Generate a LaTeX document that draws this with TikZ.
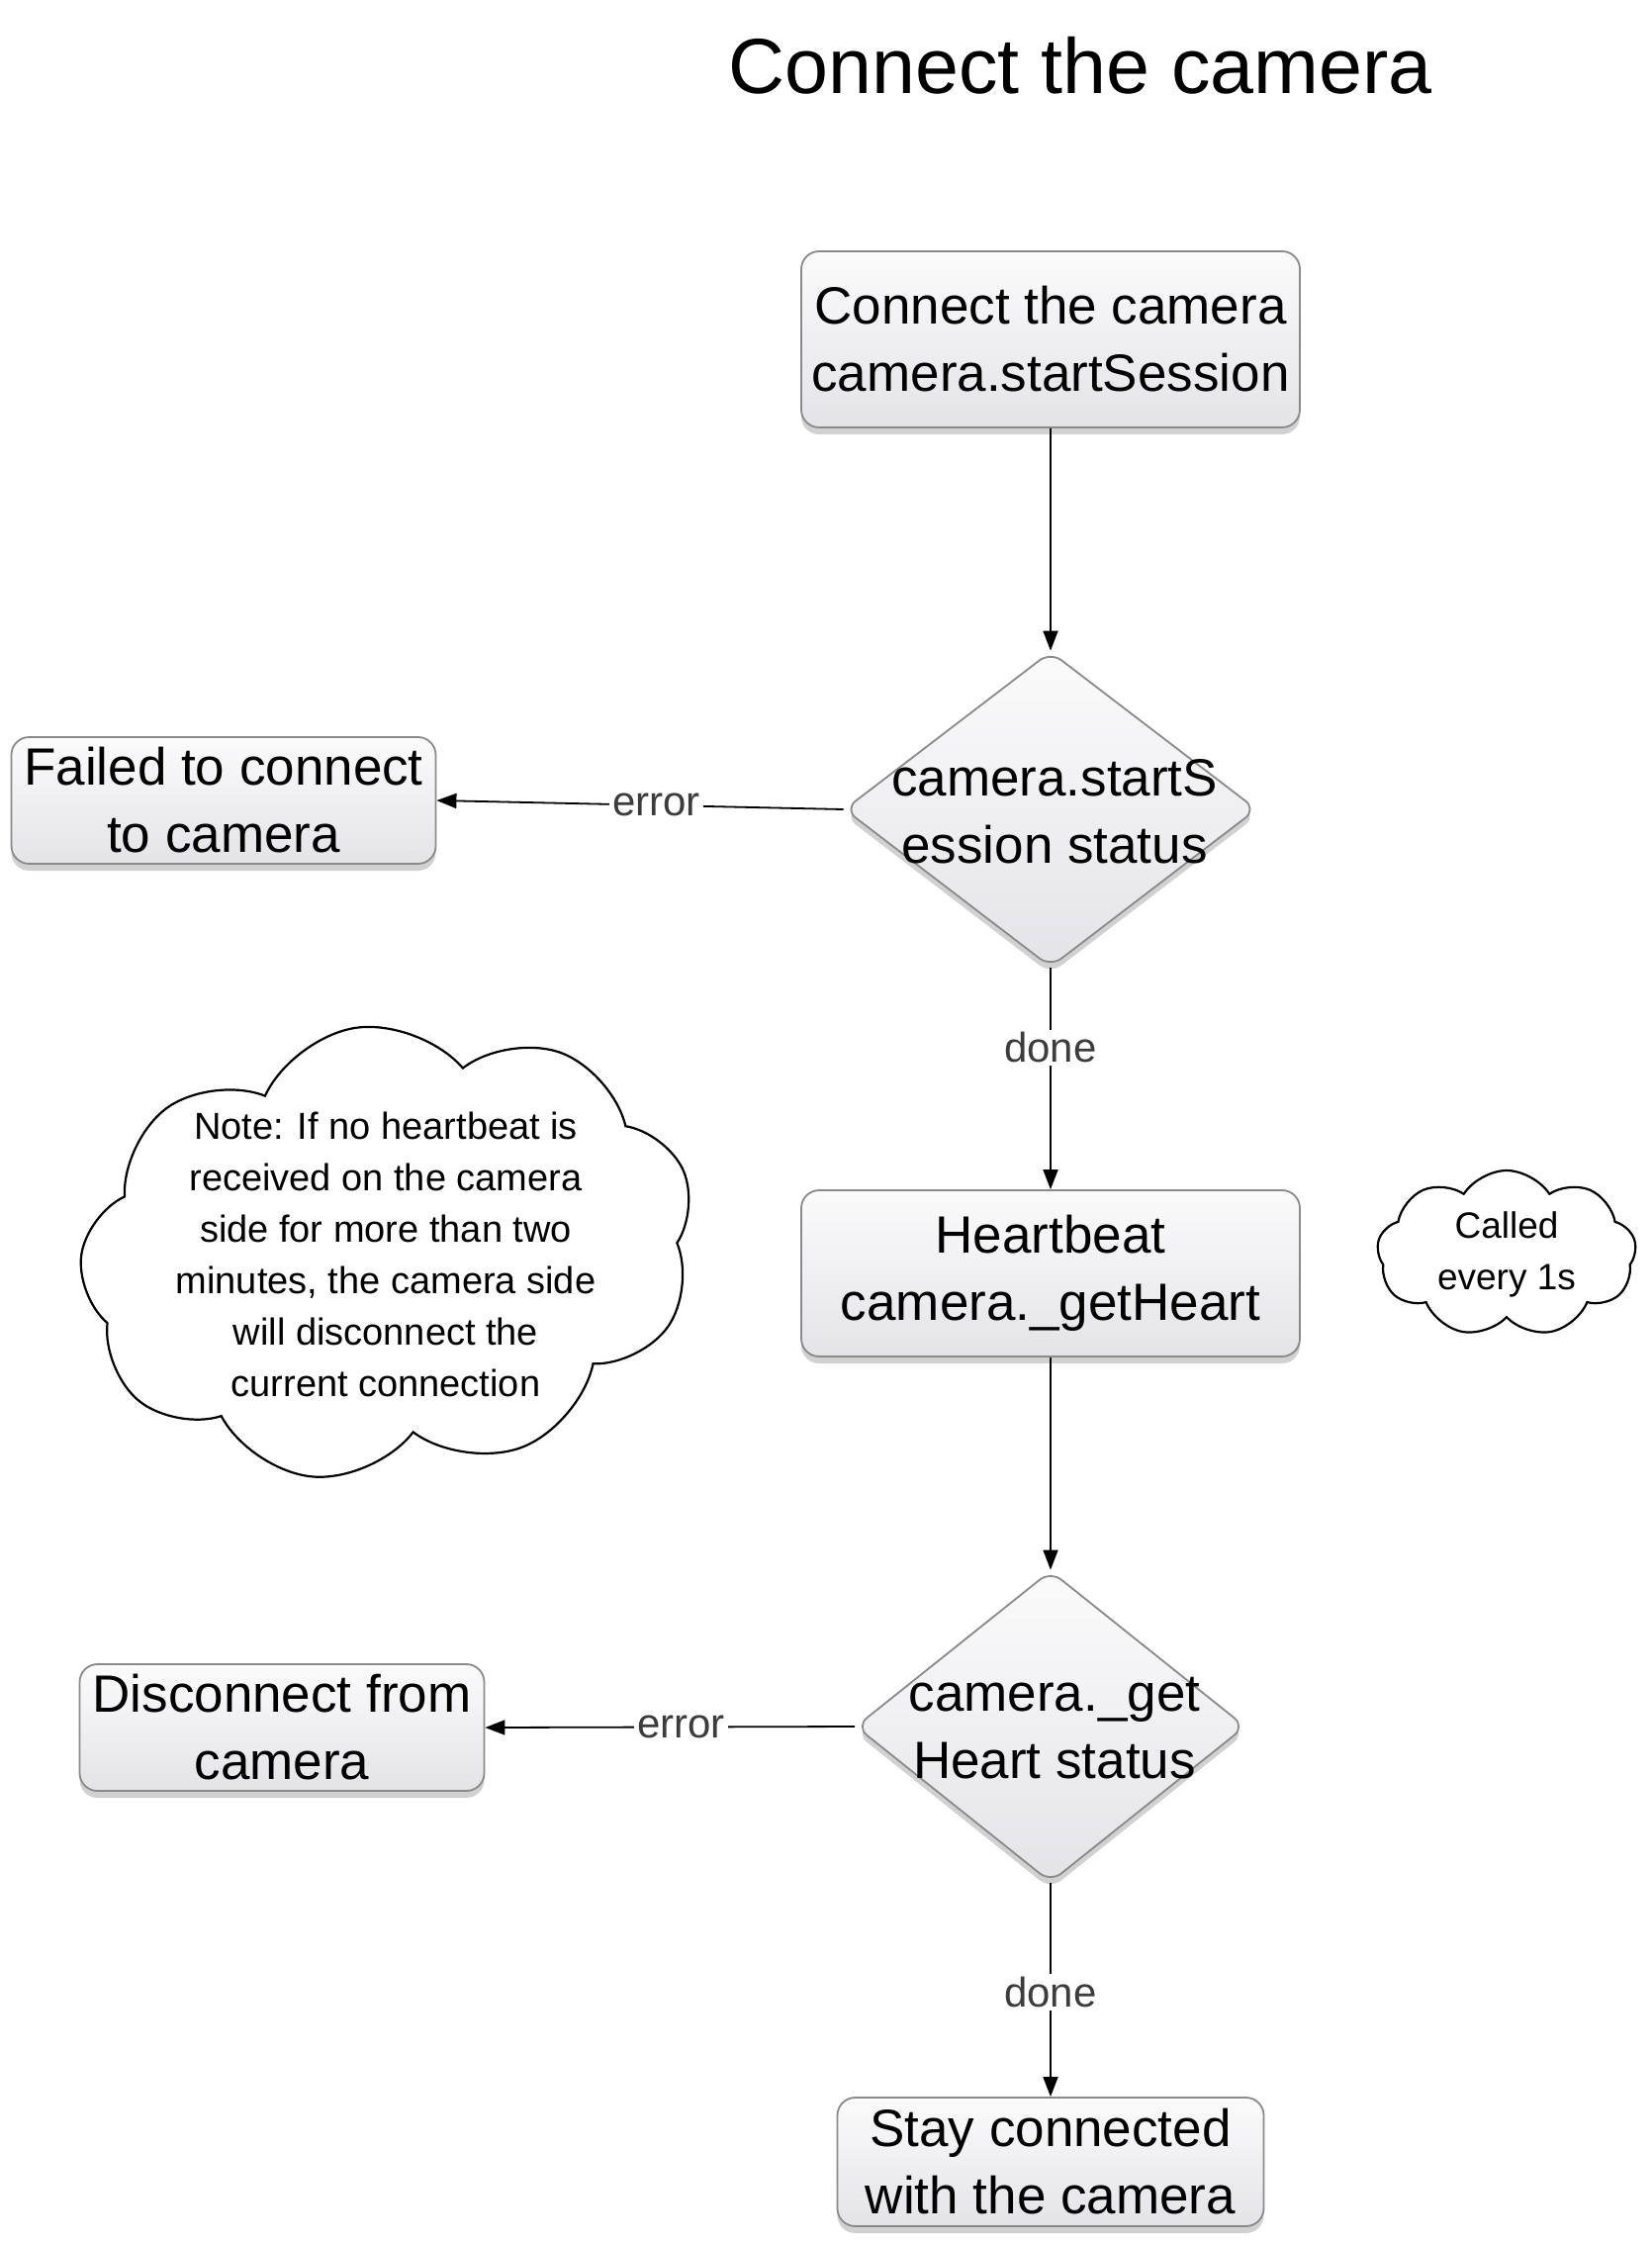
\documentclass[tikz,border=0pt]{standalone}
\usepackage{fontspec}
\setmainfont{Liberation Sans}
\usetikzlibrary{arrows.meta,shapes.geometric,shapes.symbols,shadows}
\definecolor{bordergray}{HTML}{8A8A8A}
\definecolor{topfill}{HTML}{FBFBFC}
\definecolor{botfill}{HTML}{E4E4E8}
\definecolor{lblgray}{HTML}{3C3C3C}
\begin{document}
\begin{tikzpicture}[x=1pt,y=-1pt,
  boxfont/.style={font=\fontsize{53}{68}\selectfont},
  procbox/.style={draw=bordergray, line width=1.8pt, rounded corners=18pt,
    top color=topfill, bottom color=botfill, inner sep=0pt, align=center,
    boxfont, drop shadow={shadow xshift=0pt, shadow yshift=-7pt, opacity=0.18, fill=black}},
  decision/.style={diamond, draw=bordergray, line width=1.8pt, rounded corners=14pt,
    top color=topfill, bottom color=botfill, inner sep=0pt,
    drop shadow={shadow xshift=0pt, shadow yshift=-7pt, opacity=0.18, fill=black}},
  dectext/.style={align=center, boxfont, inner sep=0pt},
  note/.style={cloud, cloud ignores aspect, draw=black, line width=2.2pt, fill=white, inner sep=0pt},
  conn/.style={draw=black, line width=1.8pt, -{Triangle[length=20pt,width=15pt]}},
  lbl/.style={fill=white, text=lblgray, inner sep=3pt, font=\fontsize{42}{50}\selectfont},
  notefont/.style={align=center, inner sep=0pt, font=\fontsize{38}{52}\selectfont}
]
\useasboundingbox (0,0) rectangle (1670,2268);
\fill[white] (0,0) rectangle (1670,2268);

% title
\node[font=\fontsize{79}{90}\selectfont, inner sep=0pt] (title) at (1092,66) {Connect the camera};

% nodes
\node[procbox, minimum width=504, minimum height=178] (start) at (1062,343)
  {Connect the camera\\camera.startSession};
\node[decision, minimum width=417, minimum height=319] (d1) at (1062,818) {};
\node[dectext] (d1t) at (1066,820) {camera.startS\\ession status};
\node[procbox, minimum width=429, minimum height=128] (fail) at (226,809)
  {Failed to connect\\to camera};

\node[procbox, minimum width=504, minimum height=168] (hb) at (1062,1287)
  {Heartbeat\\camera.\_getHeart};
\node[decision, minimum width=394, minimum height=315] (d2) at (1062,1745) {};
\node[dectext] (d2t) at (1066,1747) {camera.\_get\\Heart status};
\node[procbox, minimum width=409, minimum height=128] (disc) at (285,1746)
  {Disconnect from\\camera};
\node[procbox, minimum width=431, minimum height=130] (stay) at (1062,2185)
  {Stay connected\\with the camera};

% clouds
\node[note, cloud puffs=9, cloud puff arc=115, minimum width=624, minimum height=457, rotate=8] (bigcloud) at (392,1265) {};
\node[notefont] (bigtext) at (390,1268)
  {Note: If no heartbeat is\\received on the camera\\side for more than two\\minutes, the camera side\\will disconnect the\\current connection};
\node[note, cloud puffs=9, cloud puff arc=115, minimum width=262, minimum height=168] (smallcloud) at (1523,1267) {};
\node[notefont, font=\fontsize{37}{52}\selectfont] (smalltext) at (1523,1268) {Called\\every 1s};

% connectors
\draw[conn] (start.south) -- (d1.north);
\draw[conn] (d1.west) -- node[lbl, pos=0.46] {error} (fail.east);
\draw[conn] (d1.south) -- node[lbl, pos=0.36] {done} (hb.north);
\draw[conn] (hb.south) -- (d2.north);
\draw[conn] (d2.west) -- node[lbl, pos=0.47] {error} (disc.east);
\draw[conn] (d2.south) -- node[lbl, pos=0.51] {done} (stay.north);
\end{tikzpicture}
\end{document}
